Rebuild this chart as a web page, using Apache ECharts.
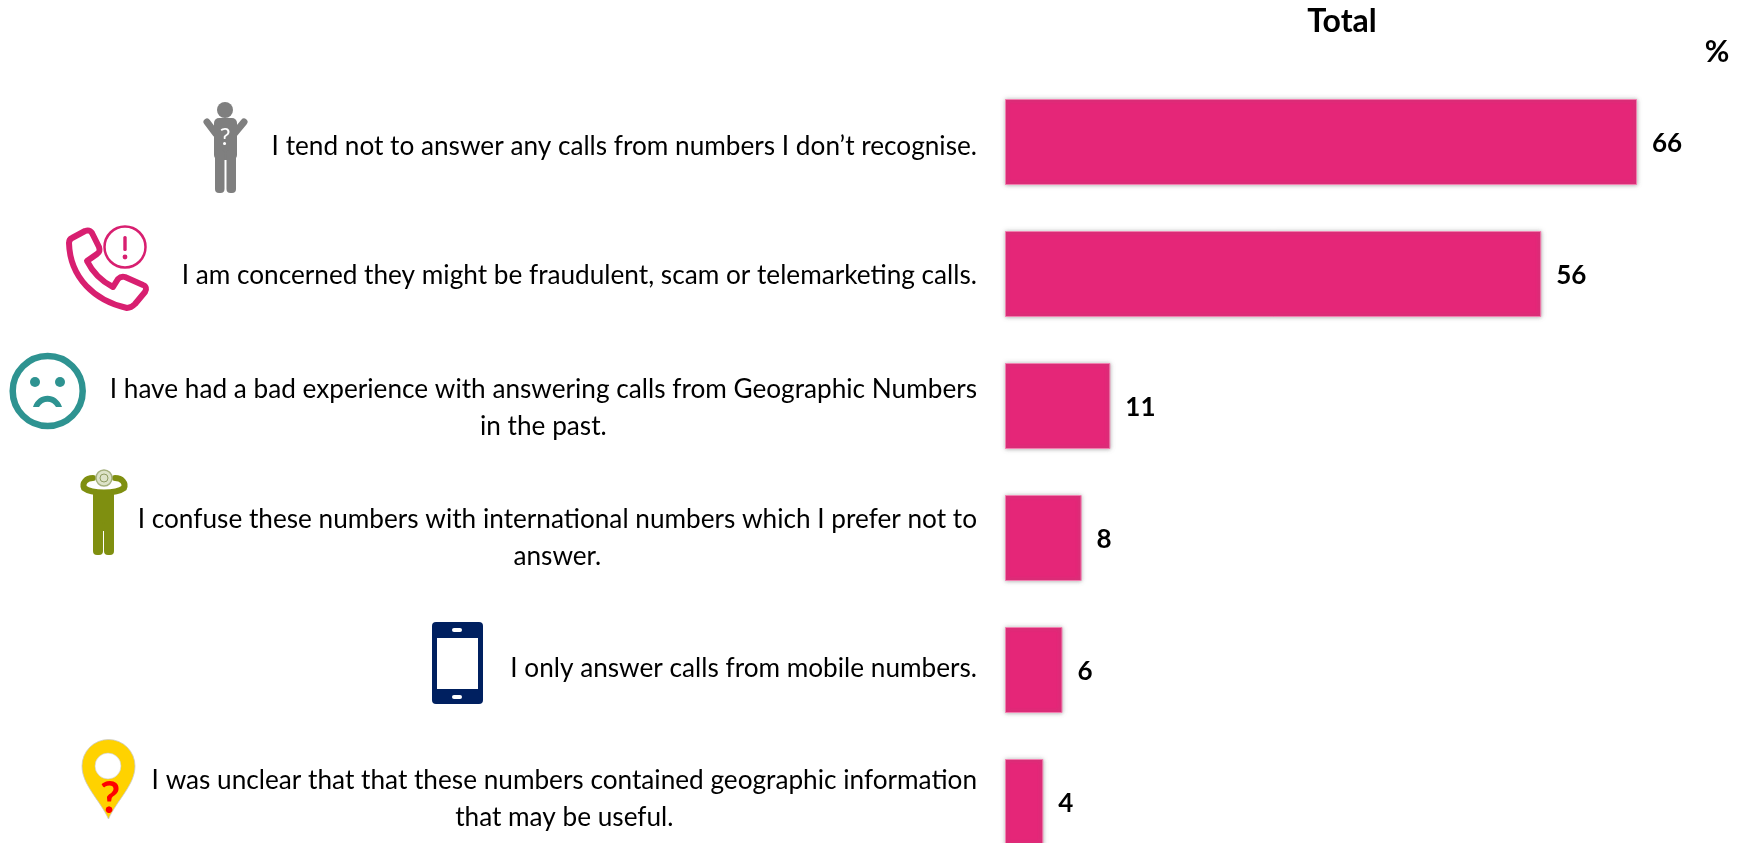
<!DOCTYPE html>
<html>
<head>
<meta charset="utf-8">
<style>html,body{margin:0;padding:0;background:#fff;overflow:hidden}#c{width:1739px;height:843px}</style>
<script src="https://cdn.jsdelivr.net/npm/echarts@6/dist/echarts.min.js"></script>
</head>
<body>
<div id="c"></div>
<script>
const categories = [
  "I tend not to answer any calls from numbers I don’t recognise.",
  "I am concerned they might be fraudulent, scam or telemarketing calls.",
  "I have had a bad experience with answering calls from Geographic Numbers\nin the past.",
  "I confuse these numbers with international numbers which I prefer not to\nanswer.",
  "I only answer calls from mobile numbers.",
  "I was unclear that that these numbers contained geographic information\nthat may be useful."
];
const values = [66, 56, 11, 8, 6, 4];
const chartTitle = "Total";
const unitLabel = "%";

const FONT = "Lato";
const GREY = "#7f7f7f", PINK = "#d81f70", TEAL = "#2e9391", OLIVE = "#7f8f10", NAVY = "#002060", YELLOW = "#ffd200";
// small per-row vertical text shifts seen in the reference
const labelShift = [5, 2, 2, 0, -1, -3];

let pathCount = 0;
function path(d, style) {
  const name = "iconPath" + (pathCount++);
  echarts.graphic.registerShape(name, echarts.graphic.extendPath(d));
  return { type: name, style: style, silent: true };
}
function circle(cx, cy, r, style) { return { type: "circle", shape: { cx, cy, r }, style, silent: true }; }
function rrect(x, y, width, height, r, fill) { return { type: "rect", shape: { x, y, width, height, r }, style: { fill }, silent: true }; }
function glyph(x, y, text, size, fill, weight) {
  return { type: "text", x, y, silent: true, style: { text, fill, fontFamily: FONT, fontWeight: weight || "bold", fontSize: size, align: "center", verticalAlign: "middle" } };
}

const icons = [
  // shrugging person
  circle(225, 110, 8, { fill: GREY }),
  path("M207 122 L216 134 L234 134 L244 122", { stroke: GREY, lineWidth: 7, lineCap: "round", lineJoin: "round", fill: "none" }),
  rrect(214, 118, 23, 42, 5, GREY),
  rrect(215, 150, 9.5, 43, 4, GREY),
  rrect(226.5, 150, 9.5, 43, 4, GREY),
  glyph(225, 137, "?", 24, "#ffffff", "normal"),
  // phone with alert
  path("M69 243 C70 278 95 301 127 308 C131 308 133 306 135 304 L145 292 C147 289 146 286 143 285 L125 277 C122 276 120 277 118 279 L113 287 C101 281 92 271 87 261 L97 254 C100 252 100 250 99 247 L92 233 C90 230 88 230 85 231 L72 238 C70 239 69 241 69 243 Z",
    { stroke: PINK, lineWidth: 6, lineJoin: "round", fill: "none" }),
  circle(125, 247, 20.5, { stroke: PINK, lineWidth: 2.5, fill: "none" }),
  rrect(123.3, 236, 3.4, 15, 1.5, PINK),
  circle(125, 257, 2.4, { fill: PINK }),
  // sad face
  circle(47.7, 391, 35, { stroke: TEAL, lineWidth: 6.5, fill: "#fff" }),
  circle(35, 382, 5, { fill: TEAL }),
  circle(60, 382, 5, { fill: TEAL }),
  path("M33 407 C38 392 57 392 62 407 L56 407 C52 400 43 400 39 407 Z", { fill: TEAL }),
  // confused person
  path("M93 478 C86 478 82 483 84 488 C92 494 116 494 124 488 C126 483 122 478 115 478", { stroke: OLIVE, lineWidth: 6, lineCap: "round", fill: "none" }),
  rrect(93, 491, 21, 40, 0, OLIVE),
  rrect(93, 520, 10, 35, 4, OLIVE),
  rrect(104, 520, 10, 35, 4, OLIVE),
  circle(104, 478, 8, { fill: "#dde3c8", stroke: "#a5b07e", lineWidth: 1.5 }),
  circle(104, 478, 4, { fill: "none", stroke: "#8f9c62", lineWidth: 1 }),
  // mobile phone
  rrect(432, 622, 51, 82, 4, NAVY),
  rrect(437, 638, 41, 51, 0, "#ffffff"),
  rrect(452, 628, 10, 4, 2, "#ffffff"),
  rrect(452, 695, 10, 4, 2, "#ffffff"),
  // map pin
  path("M108.5 819 C100 800 82 785 82 766 A26.5 26.5 0 0 1 135 766 C135 785 117 800 108.5 819 Z",
    { fill: YELLOW, stroke: "#c9c9c9", lineWidth: 0.8 }),
  circle(108, 766, 13, { fill: "#ffffff", stroke: "#c9c9c9", lineWidth: 0.6 }),
  glyph(110, 799, "?", 44, "#ff0000")
];

const chart = echarts.init(document.getElementById("c"), null, { renderer: "canvas" });
chart.setOption({
  animation: false,
  backgroundColor: "#ffffff",
  title: [
    { text: chartTitle, left: 1342, top: 22, padding: 0, textAlign: "center", textVerticalAlign: "middle",
      textStyle: { fontFamily: FONT, fontWeight: "bold", fontSize: 32, color: "#000" } },
    { text: unitLabel, left: 1717, top: 52, padding: 0, textAlign: "center", textVerticalAlign: "middle",
      textStyle: { fontFamily: FONT, fontWeight: "bold", fontSize: 30, color: "#000" } }
  ],
  grid: { left: 1005, top: 76, width: 632, height: 792, containLabel: false, outerBoundsMode: "none" },
  xAxis: { type: "value", min: 0, max: 66, show: false },
  yAxis: {
    type: "category", inverse: true,
    data: categories.map((c, i) => ({
      value: c,
      textStyle: { padding: labelShift[i] >= 0 ? [2 * labelShift[i], 0, 0, 0] : [0, 0, -2 * labelShift[i], 0] }
    })),
    axisLine: { show: false }, axisTick: { show: false }, splitLine: { show: false },
    axisLabel: {
      margin: 28, align: "right", interval: 0, color: "#000",
      fontFamily: FONT,
      formatter: v => v.split("\n").map(l => "{t|" + l + "}").join("\n"),
      rich: { t: { fontFamily: FONT, fontSize: 26.2, lineHeight: 37, color: "#000", align: "center" } }
    }
  },
  series: [{
    type: "bar", data: values, barWidth: 86,
    itemStyle: { color: "#e52678", borderColor: "#f27fb0", borderWidth: 1,
      shadowColor: "rgba(120,120,120,0.55)", shadowBlur: 4 },
    label: { show: true, position: "right", distance: 15, offset: [0, 2], color: "#000",
      fontFamily: FONT, fontWeight: "bold", fontSize: 26 }
  }],
  graphic: { elements: icons }
});
</script>
</body>
</html>
